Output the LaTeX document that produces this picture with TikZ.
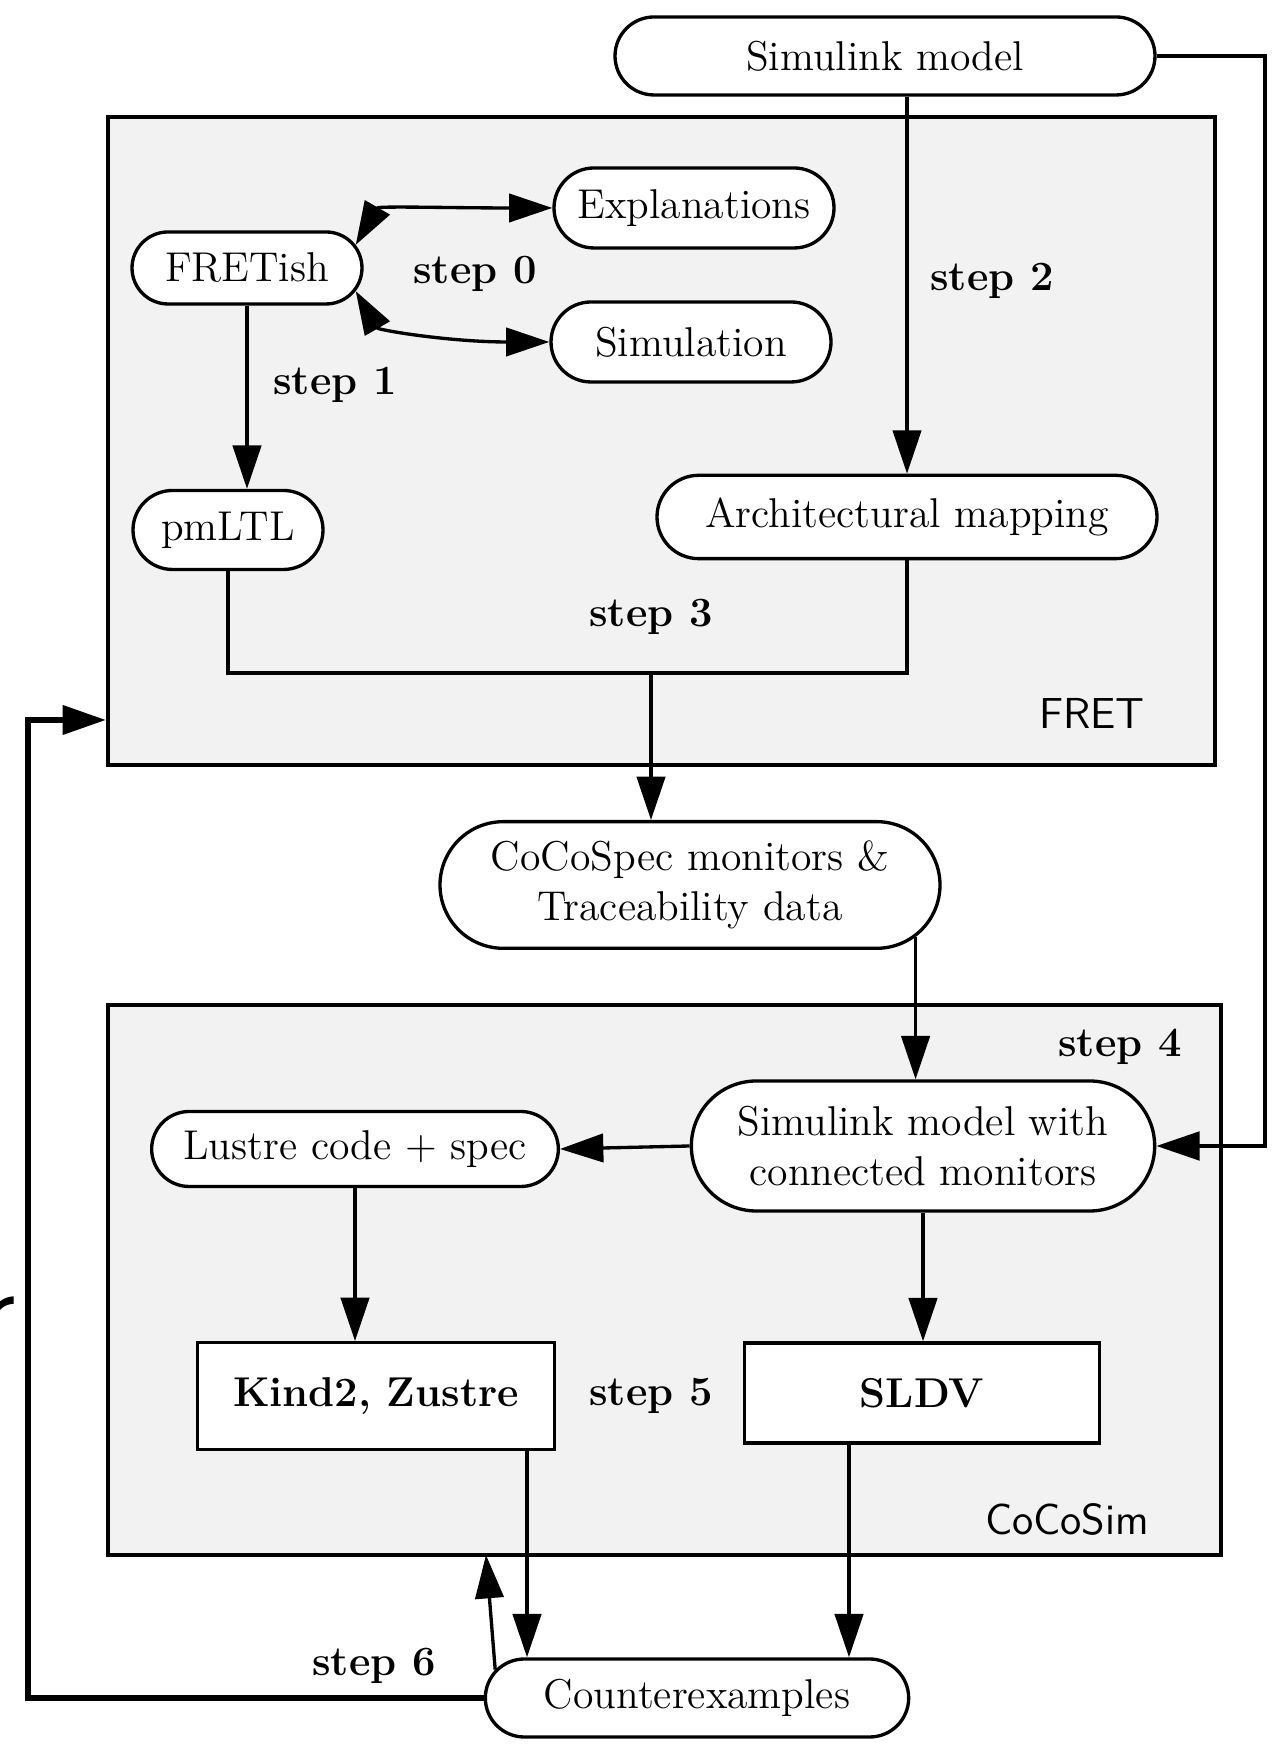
\documentclass[tikz,border=0pt]{standalone}
\usepackage{tikz}
\usetikzlibrary{shapes.misc, arrows.meta, positioning}

\begin{document}
\begin{tikzpicture}[x=0.3pt, y=0.3pt,
    font=\fontsize{12.5}{15}\selectfont,
    >={Triangle[length=13pt,width=8.5pt]},
    pill/.style={draw, line width=1pt, fill=white, rounded rectangle, align=center, inner sep=2pt},
    block/.style={draw, line width=1pt, fill=white, rectangle, font=\fontsize{12.5}{15}\selectfont\bfseries},
    tool/.style={draw, line width=1.3pt, fill=gray!10, rectangle},
    flow/.style={line width=1pt},
    steplabel/.style={font=\fontsize{12.5}{15}\selectfont\bfseries},
    toollabel/.style={font=\fontsize{13}{15}\selectfont\sffamily}]

  \useasboundingbox (0,0) rectangle (1271,1751);

  % tool boxes
  \node[tool, minimum width=332pt, minimum height=194.4pt] (fret) at (661.5,1310) {};
  \node[tool, minimum width=334pt, minimum height=165pt] (cocosim) at (664.5,471) {};
  \node[toollabel] (fretname) at (1092,1038) {FRET};
  \node[toollabel] (cocosimname) at (1067,232) {CoCoSim};

  % artefacts
  \node[pill, minimum width=166pt, minimum height=23.4pt] (sim) at (885,1695) {Simulink model};
  \node[pill, minimum width=88pt, minimum height=24pt] (expl) at (694,1543) {Explanations};
  \node[pill, minimum width=73pt, minimum height=21.6pt] (fretish) at (247,1483) {FRETish};
  \node[pill, minimum width=88pt, minimum height=24pt] (simul) at (691,1409) {Simulation};
  \node[pill, minimum width=61pt, minimum height=23.7pt] (pmltl) at (228,1221) {pmLTL};
  \node[pill, minimum width=154pt, minimum height=25pt] (arch) at (907,1234) {Architectural mapping};
  \node[pill, minimum width=154pt, minimum height=38pt] (cocospec) at (690,866) {CoCoSpec monitors \&\\Traceability data};
  \node[pill, minimum width=143pt, minimum height=39pt] (simmon) at (923,605) {Simulink model with\\connected monitors};
  \node[pill, minimum width=126pt, minimum height=22.5pt] (lustre) at (355,602) {Lustre code + spec};
  \node[block, minimum width=107pt, minimum height=32pt] (kind) at (376,355) {Kind2, Zustre};
  \node[block, minimum width=106.5pt, minimum height=30pt] (sldv) at (922,358) {SLDV};
  \node[pill, minimum width=131pt, minimum height=23.4pt] (counter) at (697,53) {Counterexamples};

  % step labels
  \node[steplabel] (s0) at (475,1477) {step 0};
  \node[steplabel] (s1) at (335,1366) {step 1};
  \node[steplabel] (s2) at (992,1470) {step 2};
  \node[steplabel] (s3) at (651,1134) {step 3};
  \node[steplabel] (s4) at (1120,704) {step 4};
  \node[steplabel] (s5) at (651,355) {step 5};
  \node[steplabel] (s6) at (374,85) {step 6};

  % cut-off letter at the left edge
  \node[font=\fontsize{34}{34}\selectfont\sffamily, anchor=base east, inner sep=0pt] (cut) at (16,404) {r};

  % routing points
  \coordinate (join) at (651,1078);
  \coordinate (rx) at (1265,1000);
  \coordinate (lx) at (28,1000);
  \coordinate (fy) at (0,1031);
  \coordinate (kx) at (527,0);
  \coordinate (sx) at (849,0);
  \coordinate (c6) at (486,196);

  \draw[flow, <->] (fretish.12) .. controls +(60:45) and +(180:100) .. (expl.west);
  \draw[flow, <->] (fretish.-12) .. controls +(-60:45) and +(180:100) .. (simul.west);
  \draw[flow, ->] (fretish.south) -- (fretish.south |- pmltl.north);
  \draw[flow, ->] (arch.north |- sim.south) -- (arch.north);
  \draw[flow] (pmltl.south) |- (join) -| (arch.south);
  \draw[flow, ->] (join) -- (join |- cocospec.north);
  \draw[flow, ->] (cocospec.-13) -- (cocospec.-13 |- simmon.north);
  \draw[flow, line width=1.3pt, ->] (sim.east) -| (rx |- simmon.east) -- (simmon.east);
  \draw[flow, ->] (simmon.west) -- (lustre.east);
  \draw[flow, ->] (lustre.south) -- (lustre.south |- kind.north);
  \draw[flow, ->] (simmon.south) -- (simmon.south |- sldv.north);
  \draw[flow, ->] (kind.south -| kx) -- (counter.north -| kx);
  \draw[flow, ->] (sldv.south -| sx) -- (counter.north -| sx);
  \draw[flow, ->] (counter.172) -- (c6);
  \draw[flow, line width=1.8pt, ->] (counter.west) -| (lx |- fy) -- (fret.west |- fy);
\end{tikzpicture}
\end{document}
